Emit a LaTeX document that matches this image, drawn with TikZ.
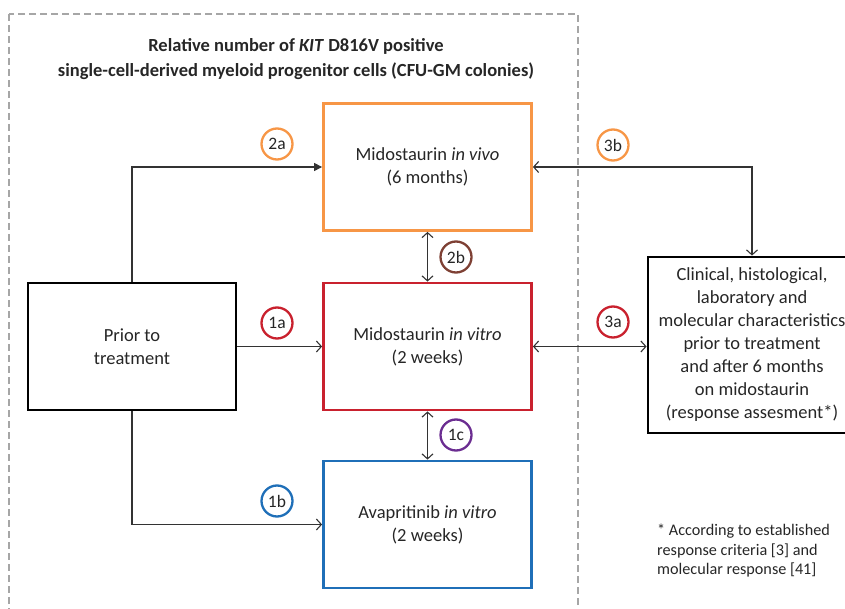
\documentclass[tikz,border=0pt]{standalone}
\usepackage{fontspec}
\setmainfont{Carlito}
\usepackage{xcolor}
\usepackage{tikz}
\usetikzlibrary{arrows.meta,positioning,calc}

\definecolor{boxorange}{HTML}{F79646}
\definecolor{boxred}{HTML}{C9212E}
\definecolor{boxblue}{HTML}{1F6FB8}
\definecolor{markbrown}{HTML}{7E4034}
\definecolor{markpurple}{HTML}{6B2D91}
\definecolor{framegray}{HTML}{A6A6A6}
\definecolor{txtgray}{HTML}{262626}

\newcommand{\boxfont}{\fontsize{18.5}{23}\selectfont}

\begin{document}
\begin{tikzpicture}[x=1pt,y=-1pt,
  >={Straight Barb[length=5pt,width=11pt]},
  stagebox/.style={draw, line width=2.8pt, minimum width=208pt, minimum height=127pt,
    align=center, text=txtgray, font=\boxfont},
  stepmark/.style={circle, draw, line width=2.3pt, minimum size=31pt, inner sep=0pt,
    text=txtgray, font=\fontsize{17.5}{20}\selectfont},
  link/.style={line width=1.1pt, draw=black!80}]
\useasboundingbox (0,0) rectangle (845,609);
\draw[framegray, line width=2.6pt, dash pattern=on 7pt off 4pt] (9,14) rectangle (578,630);
\node[align=center, text=txtgray, font=\fontsize{18.5}{25}\selectfont\bfseries] (title) at (296,59.5)
  {Relative number of \textit{KIT} D816V positive\\single-cell-derived myeloid progenitor cells (CFU-GM colonies)};
\node[stagebox, draw=black] (prior) at (132,346.5) {Prior to\\treatment};
\node[stagebox, draw=boxorange] (invivo) at (427.5,167) {Midostaurin \textit{in vivo}\\(6 months)};
\node[stagebox, draw=boxred] (invitro) at (427.5,346.5) {Midostaurin \textit{in vitro}\\(2 weeks)};
\node[stagebox, draw=boxblue] (avapr) at (427.5,524.5) {Avapritinib \textit{in vitro}\\(2 weeks)};
\node[stagebox, draw=black, minimum height=176pt] (clinical) at (752,345)
  {Clinical, histological,\\laboratory and\\molecular characteristics\\prior to treatment\\and after 6 months\\on midostaurin\\(response assesment*)};
\node[anchor=north west, align=left, inner sep=0pt, text=txtgray, font=\fontsize{16.2}{19.5}\selectfont] (note) at (657,524)
  {* According to established\\response criteria [3] and\\molecular response [41]};

\draw[link, -{Triangle[length=8pt,width=8pt]}] (prior.north) |- (invivo.west);
\draw[link, ->] (prior.south) |- (avapr.west);
\draw[link, ->] (prior.east) -- (invitro.west);
\draw[link, <->] (invivo.south) -- (invitro.north);
\draw[link, <->] (invitro.south) -- (avapr.north);
\draw[link, <->] (invitro.east) -- (invitro.east -| clinical.west);
\draw[link, <->] (invivo.east) -| (clinical.north);

\node[stepmark, draw=boxorange] (m2a) at (277,144) {2a};
\node[stepmark, draw=boxred] (m1a) at (277,323) {1a};
\node[stepmark, draw=boxblue] (m1b) at (277,501) {1b};
\node[stepmark, draw=markbrown] (m2b) at (456,257) {2b};
\node[stepmark, draw=markpurple] (m1c) at (456,435) {1c};
\node[stepmark, draw=boxorange] (m3b) at (613,145) {3b};
\node[stepmark, draw=boxred] (m3a) at (613,322) {3a};
\end{tikzpicture}
\end{document}
